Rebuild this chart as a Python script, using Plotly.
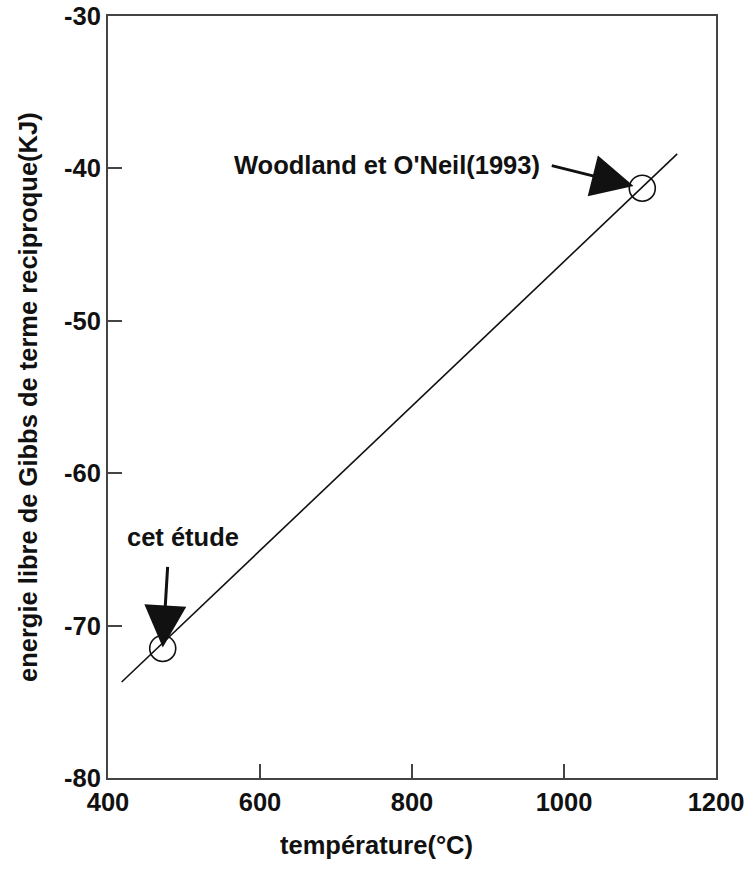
import plotly.graph_objects as go

# Data
line_temp = [418, 1149]          # °C, fitted line ends
line_energy = [-73.7, -39.05]    # kJ
point_temp = [472, 1103]         # circled points
point_energy = [-71.5, -41.3]
point_labels = ["cet étude", "Woodland et O'Neil(1993)"]
x_ticks = [400, 600, 800, 1000, 1200]
y_ticks = [-30, -40, -50, -60, -70, -80]

FONT = "Liberation Sans, Arial, Helvetica, sans-serif"
fsize = 25.5
txt = dict(family=FONT, size=fsize, color="#111111", weight="bold")

fig = go.Figure()
fig.add_trace(go.Scatter(x=line_temp, y=line_energy, mode="lines",
                         line=dict(color="#111111", width=1.6),
                         showlegend=False, hoverinfo="skip"))
fig.add_trace(go.Scatter(x=point_temp, y=point_energy, mode="markers",
                         marker=dict(symbol="circle-open", size=26,
                                     line=dict(color="#111111", width=1.6),
                                     color="#111111"),
                         showlegend=False, hoverinfo="skip"))

# arrows
fig.add_annotation(x=point_temp[0], y=point_energy[0], text="", showarrow=True,
                   ax=5, ay=-83, arrowhead=2, arrowsize=2.8, arrowwidth=3,
                   arrowcolor="#111111", standoff=1)
fig.add_annotation(x=point_temp[1], y=point_energy[1], text="", showarrow=True,
                   ax=-92, ay=-23, arrowhead=2, arrowsize=2.8, arrowwidth=3,
                   arrowcolor="#111111", standoff=9)
# labels
fig.add_annotation(x=point_temp[0], y=point_energy[0], text=point_labels[0],
                   showarrow=False, xanchor="center", yanchor="middle",
                   xshift=20, yshift=111, font=txt)
fig.add_annotation(x=point_temp[1], y=point_energy[1], text=point_labels[1],
                   showarrow=False, xanchor="right", yanchor="middle",
                   xshift=-100, yshift=23, font=txt)

# axis titles
fig.add_annotation(xref="paper", yref="paper", x=0.442, y=0, yshift=-67,
                   text="température(°C)", showarrow=False,
                   xanchor="center", yanchor="middle", font=txt)
fig.add_annotation(xref="paper", yref="paper", x=0, y=0.5, xshift=-80,
                   text="energie libre de Gibbs de terme reciproque(KJ)",
                   textangle=-90, showarrow=False,
                   xanchor="center", yanchor="middle", font=txt)

axis_common = dict(showgrid=False, zeroline=False, showline=True, mirror=True,
                   linecolor="#444444", linewidth=2, ticks="inside",
                   ticklen=14, tickwidth=1.5, tickcolor="#444444",
                   tickfont=txt, automargin=False, ticklabeloverflow="allow")
fig.update_xaxes(range=[400, 1200], tickvals=x_ticks,
                 ticktext=[str(v) for v in x_ticks], **axis_common)
fig.update_yaxes(range=[-80, -30], tickvals=y_ticks,
                 ticktext=[str(v) for v in y_ticks], **axis_common)

fig.update_layout(width=747, height=869,
                  margin=dict(l=108, r=31, t=16, b=91, autoexpand=False),
                  paper_bgcolor="white", plot_bgcolor="white",
                  font=txt, showlegend=False)

# remove the default 8px page margin so the figure fills the window exactly
fig.write_html("out.html", config={"displayModeBar": False},
               post_script="document.body.style.margin='0';")
